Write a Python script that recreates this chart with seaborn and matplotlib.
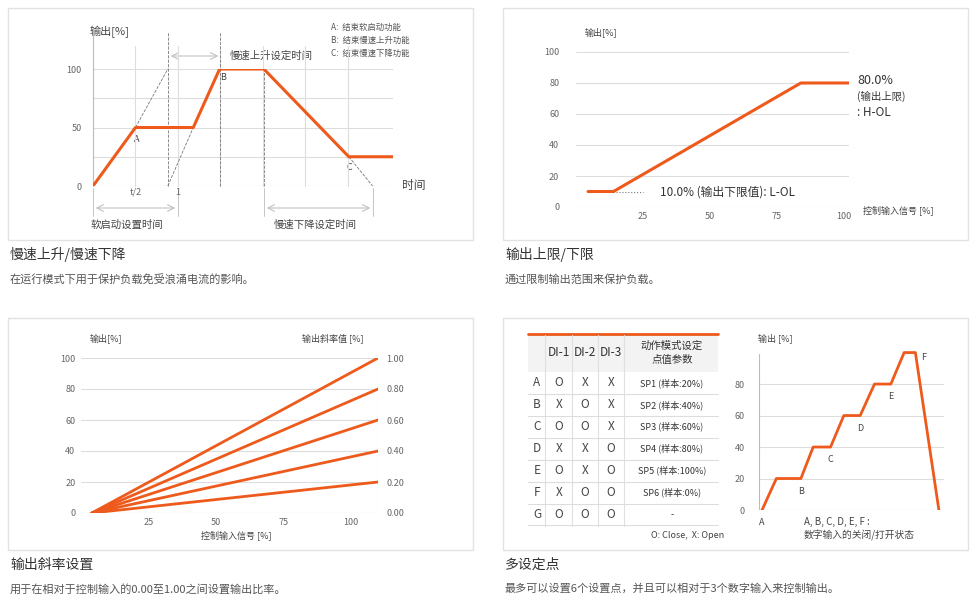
import matplotlib
matplotlib.use("Agg")
import matplotlib.pyplot as plt
import seaborn as sns
from matplotlib.patches import Rectangle

sns.set_theme(style="white")
plt.rcParams['font.family'] = ['Noto Sans CJK SC', 'DejaVu Sans']

OR = "#EE5A1C"
GR = "#666666"
GL = "#DDDDDD"

# ---------- data ----------
# panel 1: soft start / slow ramp (time units: t = 1)
p1_x = [0, 0.5, 1.18, 1.49, 2.01, 3.01, 3.53]
p1_y = [0, 50, 50, 100, 100, 25, 25]
p1_yticks = [0, 50, 100]
legend1 = ["A:  结束软启动功能", "B:  结束慢速上升功能", "C:  结束慢速下降功能"]

# panel 2: output limits
p2_x = [4.5, 14, 84, 103]
p2_y = [10, 10, 80, 80]
p2_xticks = [25, 50, 75, 100]
p2_yticks = [0, 20, 40, 60, 80, 100]

# panel 3: output gain
p3_gains = [0.2, 0.4, 0.6, 0.8, 1.0]
p3_x = [4, 110]
p3_xticks = [25, 50, 75, 100]
p3_yticks = [0, 20, 40, 60, 80, 100]
p3_rticks = ["0.00", "0.20", "0.40", "0.60", "0.80", "1.00"]

# panel 4: multi setpoint
p4_x = [0, 1.4, 3.8, 5.0, 6.7, 8.0, 9.6, 11.0, 12.6, 13.9, 15.0, 17.3]
p4_y = [0, 20, 20, 40, 40, 60, 60, 80, 80, 100, 100, 0]
p4_labels = ["A", "B", "C", "D", "E", "F"]
p4_label_pos = [(0, -8), (3.8, 12), (6.7, 32), (9.6, 52), (12.6, 72), (15.8, 97)]
tab_rows = ["A", "B", "C", "D", "E", "F", "G"]
tab_di1 = ["O", "X", "O", "X", "O", "X", "O"]
tab_di2 = ["X", "O", "O", "X", "X", "O", "O"]
tab_di3 = ["X", "X", "X", "O", "O", "O", "O"]
tab_sp = ["SP1 (样本:20%)", "SP2 (样本:40%)", "SP3 (样本:60%)", "SP4 (样本:80%)",
          "SP5 (样本:100%)", "SP6 (样本:0%)", "-"]

titles = ["慢速上升/慢速下降", "输出上限/下限", "输出斜率设置", "多设定点"]
captions = ["在运行模式下用于保护负载免受浪涌电流的影响。",
            "通过限制输出范围来保护负载。",
            "用于在相对于控制输入的0.00至1.00之间设置输出比率。",
            "最多可以设置6个设置点，并且可以相对于3个数字输入来控制输出。"]

W, H = 978, 611
fig = plt.figure(figsize=(W / 100, H / 100), dpi=100)
fig.patch.set_facecolor("white")

def ax_px(x0, y0, x1, y1):
    return fig.add_axes([x0 / W, 1 - y1 / H, (x1 - x0) / W, (y1 - y0) / H])

ov = fig.add_axes([0, 0, 1, 1])
ov.set_xlim(0, W); ov.set_ylim(H, 0); ov.axis("off")
ov.set_zorder(-1)

for (bx, by) in [(8, 8), (503, 8), (8, 318), (503, 318)]:
    ov.add_patch(Rectangle((bx, by), 465, 232, fill=False, ec="#E2E2E2", lw=1))
for (tx, ty), t, c in zip([(10, 255), (505, 255), (10, 565), (505, 565)], titles, captions):
    ov.text(tx, ty, t, fontsize=10, color="#333", va="center")
    ov.text(tx, ty + 24, c, fontsize=8, color="#555", va="center")

def style(ax):
    ax.set_facecolor("none")
    for s in ax.spines.values():
        s.set_visible(False)
    ax.tick_params(length=0, labelsize=6.5, colors=GR)

# ---------- panel 1 ----------
a1 = ax_px(93, 69, 393, 186)
style(a1)
a1.set_xlim(0, 3.53); a1.set_ylim(0, 100)
for xv in [0.5, 1.0, 1.5, 2.0, 2.5, 3.0]:
    a1.axvline(xv, color=GL, lw=0.8, ymax=1.2, clip_on=False)
for yv in [25, 50, 75, 100]:
    a1.axhline(yv, color=GL, lw=0.8)
a1.axvline(0, color="#BBB", lw=0.8, ymax=1.35, clip_on=False)
a1.axhline(0, color="#BBB", lw=0.8)
a1.plot([0.5, 0.88], [50, 100], ls="--", color="#777", lw=0.6)
a1.plot([0.88, 1.18], [0, 50], ls="--", color="#777", lw=0.6)
a1.plot([3.01, 3.29], [25, 0], ls="--", color="#777", lw=0.6)
for xv, top in [(0.88, 1.32), (1.49, 1.32), (2.01, 1.0)]:
    a1.axvline(xv, ls="--", color="#777", lw=0.6, ymax=top, clip_on=False)
sns.lineplot(x=p1_x, y=p1_y, ax=a1, color=OR, lw=2.2, sort=False)
a1.set_xticks([]); a1.set_yticks(p1_yticks)
a1.set_yticklabels([str(v) for v in p1_yticks])
a1.tick_params(axis="y", pad=8)
a1.set_xlabel(""); a1.set_ylabel("")
ov.text(90, 32, "输出[%]", fontsize=8, color="#444", va="center")
ov.text(402, 185, "时间", fontsize=8.5, color="#444", va="center")
ov.text(136, 195, "t/2", fontsize=6.5, color=GR, ha="center")
ov.text(178, 195, "1", fontsize=6.5, color=GR, ha="center")
ov.text(137, 139, "A", fontsize=6.5, color="#444", ha="center", va="center")
ov.text(223, 78, "B", fontsize=6.5, color="#444", ha="center", va="center")
ov.text(349, 168, "C", fontsize=6.5, color="#444", ha="center", va="center")
ov.text(230, 56, "慢速上升设定时间", fontsize=7.5, color="#444", va="center")
for i, t in enumerate(legend1):
    ov.text(331, 27 + i * 13, t, fontsize=6, color="#555", va="center")
ov.annotate("", xy=(221, 56), xytext=(168, 56),
            arrowprops=dict(arrowstyle="<->", color="#BBB", lw=0.7))
ov.annotate("", xy=(178, 208), xytext=(93, 208),
            arrowprops=dict(arrowstyle="<->", color="#BBB", lw=0.7))
ov.annotate("", xy=(373, 208), xytext=(264, 208),
            arrowprops=dict(arrowstyle="<->", color="#BBB", lw=0.7))
for xv in [93, 178, 264, 373]:
    ov.plot([xv, xv], [188, 216], color="#BBB", lw=0.6)
ov.text(91, 225, "软启动设置时间", fontsize=7.5, color="#444", va="center")
ov.text(274, 225, "慢速下降设定时间", fontsize=7.5, color="#444", va="center")

# ---------- panel 2 ----------
a2 = ax_px(576, 52, 849, 207)
style(a2)
a2.set_xlim(0, 102); a2.set_ylim(0, 100)
for yv in p2_yticks[1:]:
    a2.axhline(yv, color=GL, lw=0.8)
a2.axhline(0, color="#BBB", lw=0.8)
a2.plot([14, 25], [10, 10], ls=":", color="#777", lw=0.8)
sns.lineplot(x=p2_x, y=p2_y, ax=a2, color=OR, lw=2.2, sort=False)
a2.set_xticks(p2_xticks); a2.set_yticks(p2_yticks)
a2.set_xticklabels([str(v) for v in p2_xticks])
a2.set_yticklabels([str(v) for v in p2_yticks])
a2.tick_params(axis="y", pad=12)
a2.set_xlabel(""); a2.set_ylabel("")
a2.set_clip_on(False)
ov.text(585, 32, "输出[%]", fontsize=6.5, color="#444", va="center")
ov.text(857, 80, "80.0%", fontsize=9, color="#333", va="center")
ov.text(857, 96, "(输出上限)", fontsize=7.5, color="#333", va="center")
ov.text(857, 112, ": H-OL", fontsize=8.5, color="#333", va="center")
ov.text(660, 192, "10.0% (输出下限值): L-OL", fontsize=8.5, color="#333", va="center")
ov.text(863, 210, "控制输入信号 [%]", fontsize=6.5, color="#444", va="center")

# ---------- panel 3 ----------
a3 = ax_px(81, 358, 378, 513)
style(a3)
a3.set_xlim(0, 110); a3.set_ylim(0, 100)
for yv in p3_yticks[1:]:
    a3.axhline(yv, color=GL, lw=0.8)
a3.axhline(0, color="#BBB", lw=0.8)
a3.axvline(110, color="#BBB", lw=0.8)
for g in p3_gains:
    sns.lineplot(x=p3_x, y=[0, 100 * g], ax=a3, color=OR, lw=2)
a3.set_xticks(p3_xticks); a3.set_yticks(p3_yticks)
a3.set_xticklabels([str(v) for v in p3_xticks])
a3.set_yticklabels([str(v) for v in p3_yticks])
a3.tick_params(axis="y", pad=4)
a3.set_xlabel(""); a3.set_ylabel("")
r3 = a3.twinx()
style(r3)
r3.set_ylim(0, 100); r3.set_yticks(p3_yticks)
r3.set_yticklabels(p3_rticks)
r3.tick_params(axis="y", pad=6)
ov.text(90, 338, "输出[%]", fontsize=6.5, color="#444", va="center")
ov.text(302, 338, "输出斜率值 [%]", fontsize=6.5, color="#444", va="center")
ov.text(236, 535, "控制输入信号 [%]", fontsize=6.5, color="#444", va="center", ha="center")

# ---------- panel 4 table ----------
tx0, tx1 = 528, 718
ov.add_patch(Rectangle((tx0, 334), tx1 - tx0, 38, color="#F3F3F3", lw=0))
ov.plot([tx0, tx1], [334, 334], color=OR, lw=2)
col_x = [537, 559, 585, 611, 672]
for xv in [545, 572, 598, 624]:
    ov.plot([xv, xv], [335, 526], color="#E0E0E0", lw=0.8)
for lab, xv in zip(["DI-1", "DI-2", "DI-3"], col_x[1:4]):
    ov.text(xv, 353, lab, fontsize=8.5, color="#333", ha="center", va="center")
ov.text(672, 346, "动作模式设定", fontsize=7.5, color="#333", ha="center", va="center")
ov.text(672, 360, "点值参数", fontsize=7.5, color="#333", ha="center", va="center")
for i in range(7):
    yc = 383 + i * 21.9
    vals = [tab_rows[i], tab_di1[i], tab_di2[i], tab_di3[i]]
    for v, xv in zip(vals, col_x[:4]):
        ov.text(xv, yc, v, fontsize=8.5, color="#444", ha="center", va="center")
    ov.text(672, yc, tab_sp[i], fontsize=6.5, color="#333", ha="center", va="center")
    ov.plot([tx0, tx1], [yc + 11, yc + 11], color="#DDDDDD", lw=0.8)
ov.text(724, 536, "O: Close,  X: Open", fontsize=6.5, color="#444", ha="right", va="center")

# ---------- panel 4 chart ----------
a4 = ax_px(759, 351, 944, 510)
style(a4)
a4.set_xlim(-0.3, 17.8); a4.set_ylim(0, 101)
for yv in [20, 40, 60, 80]:
    a4.axhline(yv, color=GL, lw=0.8)
a4.axhline(0, color="#BBB", lw=0.8)
a4.axvline(-0.3, color="#BBB", lw=0.8, ymax=0.98)
sns.lineplot(x=p4_x, y=p4_y, ax=a4, color=OR, lw=2, sort=False)
a4.set_xticks([]); a4.set_yticks([0, 20, 40, 60, 80])
a4.set_yticklabels(["0", "20", "40", "60", "80"])
a4.tick_params(axis="y", pad=10)
a4.set_xlabel(""); a4.set_ylabel("")
for lab, (xv, yv) in zip(p4_labels, p4_label_pos):
    a4.text(xv, yv, lab, fontsize=6.5, color="#444", ha="center", va="center", clip_on=False)
ov.text(758, 338, "输出 [%]", fontsize=6.5, color="#444", va="center")
ov.text(804, 522, "A, B, C, D, E, F :", fontsize=7, color="#444", va="center")
ov.text(804, 535, "数字输入的关闭/打开状态", fontsize=7, color="#444", va="center")

fig.savefig("out.png", dpi=100, facecolor="white")
